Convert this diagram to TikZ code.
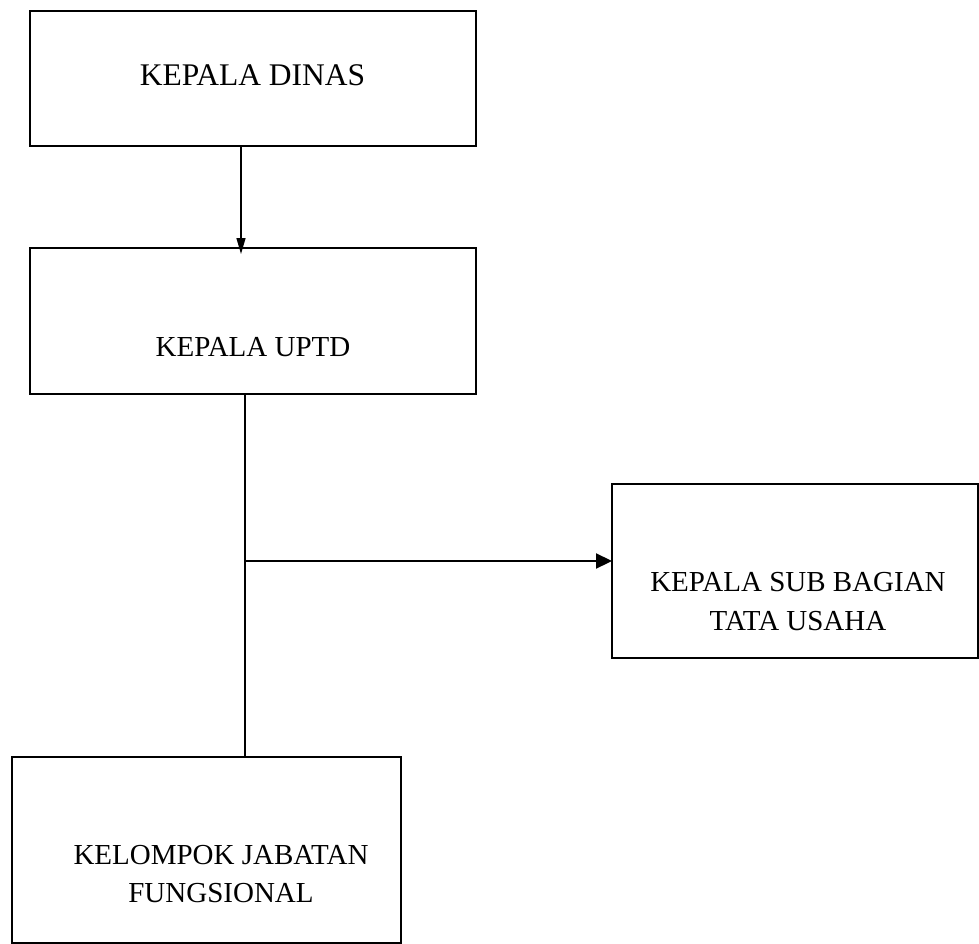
\documentclass[tikz,border=0pt]{standalone}
\usepackage{fontspec}
\setmainfont{Liberation Serif}
\usetikzlibrary{arrows.meta,calc}
\begin{document}
\begin{tikzpicture}[x=1pt,y=-1pt,
  box/.style={draw=black,line width=2.2pt,rectangle,inner sep=0pt,outer sep=0pt},
  lbl/.style={anchor=base,inner sep=0pt,font=\fontsize{29}{35}\selectfont},
  lblbig/.style={anchor=base,inner sep=0pt,font=\fontsize{31.5}{38}\selectfont},
  thinarrow/.style={line width=1.4pt,-{Triangle[length=16pt,width=9pt]}},
  thickline/.style={line width=2.2pt},
  thickarrow/.style={line width=2.2pt,-{Triangle[length=16pt,width=15pt]}}]
\useasboundingbox (0,0) rectangle (979,944);
\node[box,minimum width=446pt,minimum height=135pt] (b1) at (253,78.5) {};
\node[box,minimum width=446pt,minimum height=146pt] (b2) at (253,321) {};
\node[box,minimum width=366pt,minimum height=174pt] (b3) at (795,571) {};
\node[box,minimum width=389pt,minimum height=186pt] (b4) at (206.5,850) {};
\node[lblbig] (t1) at (252.5,86) {KEPALA DINAS};
\node[lbl] (t2) at (253,356) {KEPALA UPTD};
\node[lbl] (t3a) at (798,591) {KEPALA SUB BAGIAN};
\node[lbl] (t3b) at (798,630) {TATA USAHA};
\node[lbl] (t4a) at (221,864) {KELOMPOK JABATAN};
\node[lbl] (t4b) at (221,902) {FUNGSIONAL};
\coordinate (xa) at (241,0);
\coordinate (xb) at (245,0);
\coordinate (j) at (245,561);
\draw[thinarrow] (xa |- b1.south) -- ([yshift=-6pt]xa |- b2.north);
\draw[thickline] (xb |- b2.south) -- (xb |- b4.north);
\draw[thickarrow] (j) -- (j -| b3.west);
\end{tikzpicture}
\end{document}
